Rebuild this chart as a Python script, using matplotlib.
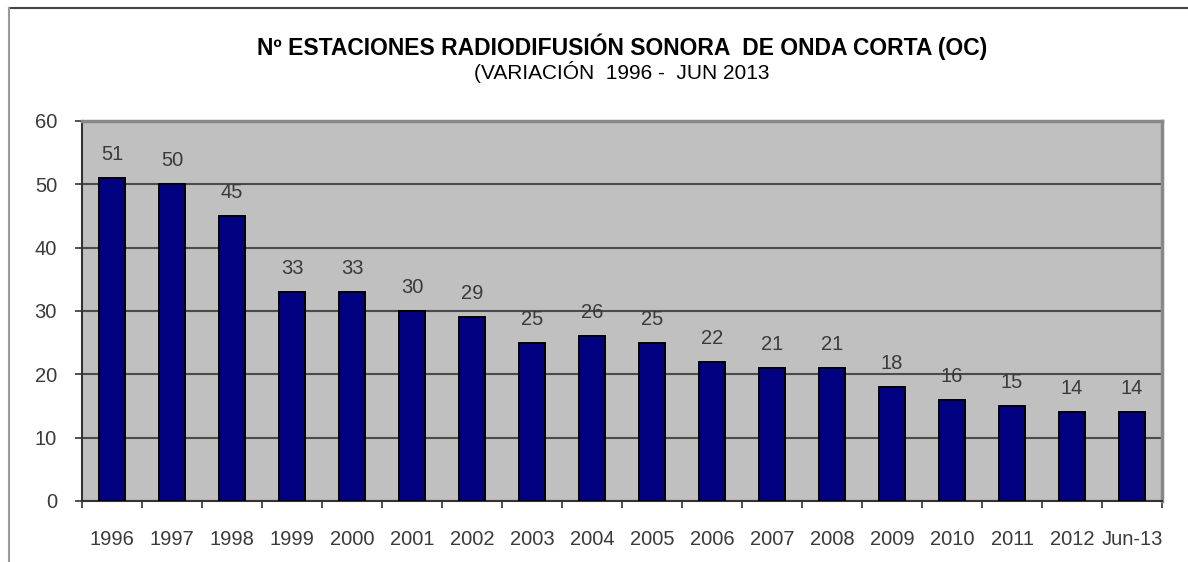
import numpy as np
import matplotlib.pyplot as plt
from matplotlib.lines import Line2D

years = ['1996', '1997', '1998', '1999', '2000', '2001', '2002', '2003', '2004',
         '2005', '2006', '2007', '2008', '2009', '2010', '2011', '2012', 'Jun-13']
stations = [51, 50, 45, 33, 33, 30, 29, 25, 26, 25, 22, 21, 21, 18, 16, 15, 14, 14]

plt.rcParams['font.family'] = ['Liberation Sans', 'DejaVu Sans']

W, H = 1188, 562
fig = plt.figure(figsize=(W/100, H/100), dpi=100)
ax = fig.add_axes([82/W, (H-501)/H, (1162-82)/W, (501-121)/H])
ax.set_facecolor('#c0c0c0')

x = np.arange(len(years))
ax.bar(x, stations, width=0.42, color='#000080', edgecolor='black', linewidth=1.4, zorder=3)
for xi, v in zip(x, stations):
    ax.annotate(str(v), (xi, v), xytext=(0, 10), textcoords='offset points',
                ha='center', va='bottom', fontsize=14.5, color='#3a3a3a')

ax.set_xlim(-0.5, len(years) - 0.5)
ax.set_ylim(0, 60)
ax.set_yticks(range(0, 61, 10))
ax.yaxis.grid(True, color='#4a4a4a', linewidth=1.5, zorder=1)
ax.set_axisbelow(True)

ax.set_xticks(x)
ax.set_xticklabels(years)
ax.set_xticks(np.arange(-0.5, len(years)), minor=True)
ax.tick_params(axis='x', which='major', length=0, pad=21, labelsize=14.5, labelcolor='#3a3a3a')
ax.tick_params(axis='x', which='minor', length=5, width=1.2, color='#333333', direction='out')
ax.tick_params(axis='y', length=5, width=1.2, color='#333333', pad=13, labelsize=14.5, labelcolor='#3a3a3a')

for s in ['left', 'bottom']:
    ax.spines[s].set_color('#333333')
    ax.spines[s].set_linewidth(1.5)
for s in ['top', 'right']:
    ax.spines[s].set_color('#888888')
    ax.spines[s].set_linewidth(2.5)

cx = (82 + 1162) / 2 / W
fig.text(cx, 1 - 47/H, 'Nº ESTACIONES RADIODIFUSIÓN SONORA  DE ONDA CORTA (OC)',
         ha='center', va='center', fontsize=16.5, fontweight='bold', color='black')
fig.text(cx, 1 - 72/H, '(VARIACIÓN  1996 -  JUN 2013', ha='center', va='center',
         fontsize=15, color='black')

# outer frame (top and left edges)
fig.add_artist(Line2D([9/W, 1], [1 - 8/H, 1 - 8/H], transform=fig.transFigure,
                      color='#444444', linewidth=1.5))
fig.add_artist(Line2D([9/W, 9/W], [0, 1 - 8/H], transform=fig.transFigure,
                      color='#999999', linewidth=1.5))

fig.savefig('out.png', dpi=100)
